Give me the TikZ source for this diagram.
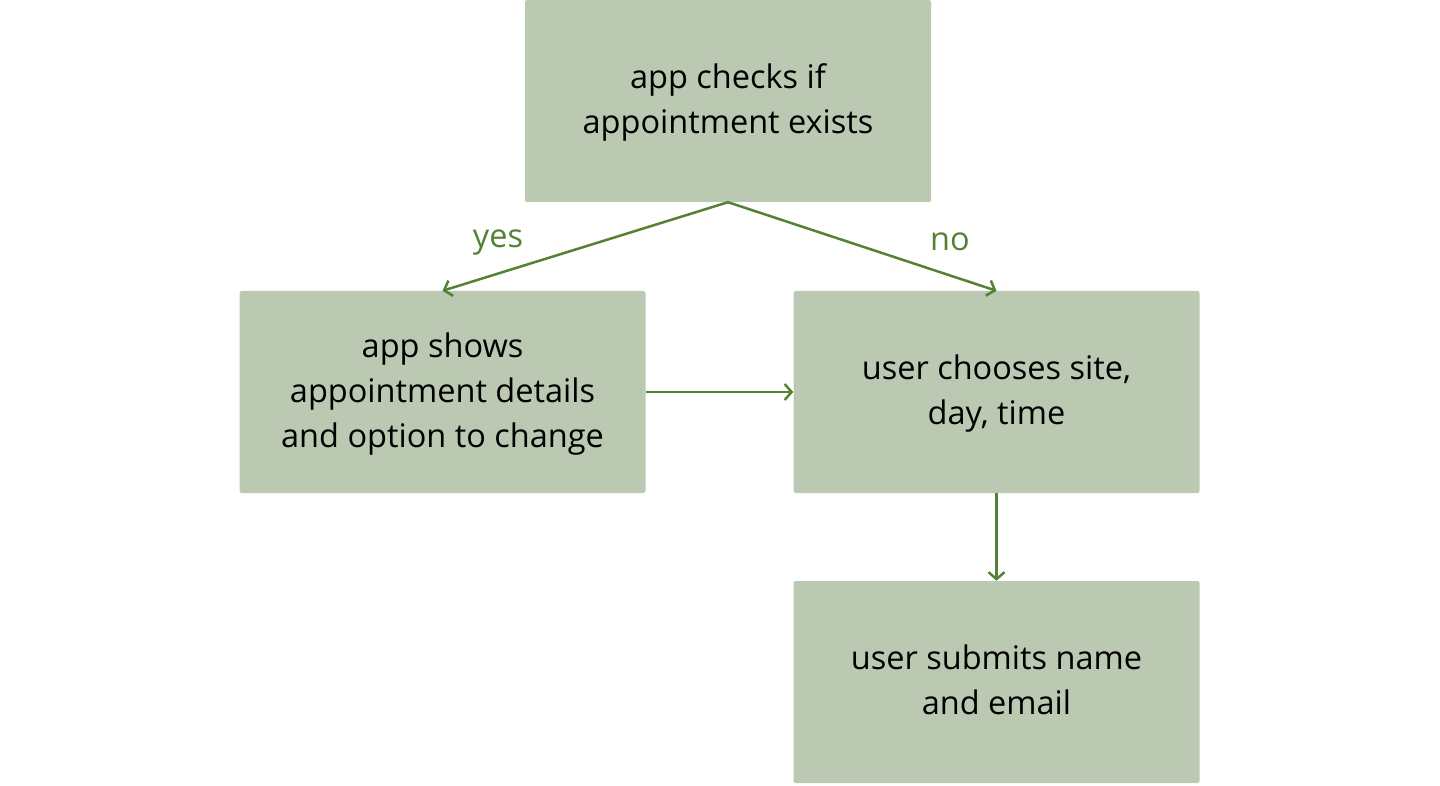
\documentclass[tikz,border=0pt]{standalone}
\usepackage{fontspec}
\setmainfont{Open Sans}
\usetikzlibrary{arrows.meta}
\definecolor{boxfill}{HTML}{BCC9B2}
\definecolor{arrowgreen}{HTML}{548235}
\begin{document}
\begin{tikzpicture}[x=1pt,y=-1pt,
  box/.style={fill=boxfill, draw=none, rounded corners=2pt, minimum width=406pt, minimum height=202pt, align=center, font=\fontsize{32.5}{45}\selectfont, inner sep=0pt, text depth=4pt},
  conn/.style={draw=arrowgreen, line width=2.5pt, -{Straight Barb[length=7pt,width=16pt,line width=2.5pt]}},
  lab/.style={text=arrowgreen, font=\fontsize{32.5}{36}\selectfont}]
\useasboundingbox (0,0) rectangle (1440,786);
\node[box] (top) at (728,101) {app checks if\\appointment exists};
\node[box] (left) at (442.5,392) {app shows\\appointment details\\and option to change};
\node[box] (right) at (996.5,392) {user chooses site,\\day, time};
\node[box] (bottom) at (996.5,682) {user submits name\\and email};
\draw[conn] (top.south) -- (left.north);
\draw[conn] (top.south) -- (right.north);
\draw[conn] (left.east) -- (right.west);
\draw[conn] (right.south) -- (bottom.north);
\node[lab] (yes) at (498,243) {yes};
\node[lab] (no) at (950,242) {no};
\end{tikzpicture}
\end{document}
